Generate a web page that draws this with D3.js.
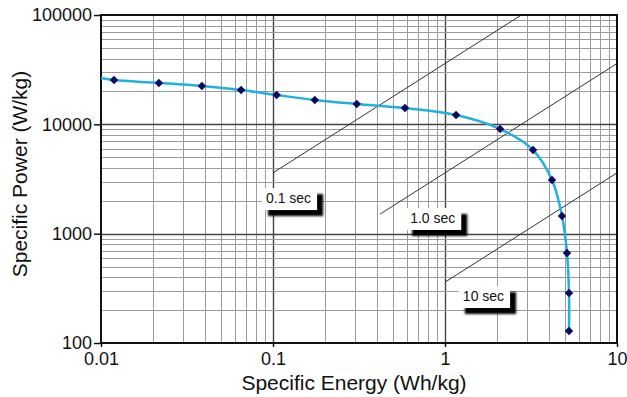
<!DOCTYPE html>
<html>
<head>
<meta charset="utf-8">
<script src="https://cdn.jsdelivr.net/npm/d3@7"></script>
<style>
  body { margin: 0; background: #fff; }
  svg { display: block; font-family: "Liberation Sans", Arial, sans-serif; }
</style>
</head>
<body>
<div id="chart"></div>
<script>
// Ragone plot: specific power vs specific energy (log-log)

var energy = [0.0119, 0.0217, 0.0386, 0.0652, 0.105, 0.175, 0.307, 0.585, 1.16, 2.09, 3.25, 4.19, 4.79, 5.12, 5.26, 5.26];
var power  = [25400, 23900, 22400, 20600, 18550, 16700, 15350, 14100, 12170, 9060, 5820, 3100, 1450, 665, 287, 129];
// the curve is drawn in from the left edge of the plot
var curveStart = [0.01, 26500];

// constant discharge time lines: P = E * 3600 / t
var timeSec    = [0.1, 1.0, 10];
var timeFromE  = [0.1, 0.42, 1];
var timeToE    = [2.78, 10, 10];
var timeLabels = ["0.1 sec", "1.0 sec", "10 sec"];
var labelE     = [0.091, 0.627, 1.27];
var labelP     = [1905, 1253, 242];

var xTicks = [0.01, 0.1, 1, 10];
var yTicks = [100, 1000, 10000, 100000];

var W = 627, H = 397;
var margin = {top: 15, right: 10, bottom: 54, left: 101};

var svg = d3.select("#chart").append("svg")
    .attr("width", W)
    .attr("height", H);

var x = d3.scaleLog().domain([0.01, 10]).range([margin.left, W - margin.right]);
var y = d3.scaleLog().domain([100, 100000]).range([H - margin.bottom, margin.top]);

var defs = svg.append("defs");
defs.append("filter").attr("id", "blur")
    .attr("x", "-20%").attr("y", "-20%").attr("width", "140%").attr("height", "140%")
  .append("feGaussianBlur").attr("stdDeviation", 1);

function isMajor(v) {
    var l = Math.log10(v);
    return Math.abs(l - Math.round(l)) < 1e-9;
}

// grid
var grid = svg.append("g").attr("class", "grid");
grid.selectAll(".vgrid")
    .data(x.ticks().filter(function(d) { return d > 0.01 && d < 10; }))
    .enter().append("line")
    .attr("x1", function(d) { return Math.round(x(d)) + 0.5; })
    .attr("x2", function(d) { return Math.round(x(d)) + 0.5; })
    .attr("y1", y.range()[0])
    .attr("y2", y.range()[1])
    .attr("stroke", function(d) { return isMajor(d) ? "#444" : "#9c9c9c"; })
    .attr("stroke-width", function(d) { return isMajor(d) ? 1.4 : 1; });

grid.selectAll(".hgrid")
    .data(y.ticks().filter(function(d) { return d > 100 && d < 100000; }))
    .enter().append("line")
    .attr("y1", function(d) { return Math.round(y(d)) + 0.5; })
    .attr("y2", function(d) { return Math.round(y(d)) + 0.5; })
    .attr("x1", x.range()[0])
    .attr("x2", x.range()[1])
    .attr("stroke", function(d) { return isMajor(d) ? "#444" : "#9c9c9c"; })
    .attr("stroke-width", function(d) { return isMajor(d) ? 1.4 : 1; });

// constant time lines
var tLines = timeSec.map(function(t, i) {
    return {t: t, e0: timeFromE[i], e1: timeToE[i]};
});
svg.selectAll(".tline")
    .data(tLines).enter().append("line")
    .attr("x1", function(d) { return x(d.e0); })
    .attr("y1", function(d) { return y(d.e0 * 3600 / d.t); })
    .attr("x2", function(d) { return x(d.e1); })
    .attr("y2", function(d) { return y(d.e1 * 3600 / d.t); })
    .attr("stroke", "#333")
    .attr("stroke-width", 1);

// labels with drop shadow
var labels = timeLabels.map(function(s, i) { return {s: s, e: labelE[i], p: labelP[i]}; });
var lg = svg.selectAll(".tlabel").data(labels).enter().append("g")
    .attr("transform", function(d) { return "translate(" + x(d.e) + "," + y(d.p) + ")"; });
lg.each(function(d) {
    var g = d3.select(this);
    var tmp = g.append("text").attr("font-size", 14).text(d.s);
    var tw = tmp.node().getComputedTextLength();
    tmp.remove();
    g.append("rect")
        .attr("x", 2).attr("y", -9)
        .attr("width", tw + 10).attr("height", 22)
        .attr("fill", "#000")
        .attr("filter", "url(#blur)");
    g.append("rect")
        .attr("x", -4).attr("y", -15)
        .attr("width", tw + 10).attr("height", 22)
        .attr("fill", "#fff");
    g.append("text")
        .attr("font-size", 14)
        .attr("fill", "#111")
        .text(d.s);
});

// frame
svg.append("rect")
    .attr("x", x.range()[0])
    .attr("y", y.range()[1])
    .attr("width", x.range()[1] - x.range()[0])
    .attr("height", y.range()[0] - y.range()[1])
    .attr("fill", "none")
    .attr("stroke", "#111")
    .attr("stroke-width", 2);

// curve and markers
var pts = [curveStart].concat(energy.map(function(e, i) { return [e, power[i]]; }));
var line = d3.line()
    .x(function(d) { return x(d[0]); })
    .y(function(d) { return y(d[1]); })
    .curve(d3.curveCatmullRom.alpha(0.5));
svg.append("path")
    .attr("d", line(pts))
    .attr("fill", "none")
    .attr("stroke", "#1fb2de")
    .attr("stroke-width", 2.5);

svg.selectAll(".pt")
    .data(energy.map(function(e, i) { return [e, power[i]]; }))
    .enter().append("path")
    .attr("d", d3.symbol(d3.symbolSquare, 36))
    .attr("transform", function(d) { return "translate(" + x(d[0]) + "," + y(d[1]) + ") rotate(45)"; })
    .attr("fill", "#0a0a66");

// axes
var fmt = function(d) { return String(d); };
var xAxis = svg.append("g")
    .attr("transform", "translate(0," + y.range()[0] + ")")
    .call(d3.axisBottom(x).tickValues(xTicks).tickFormat(fmt).tickSize(4).tickPadding(5));
var yAxis = svg.append("g")
    .attr("transform", "translate(" + x.range()[0] + ",0)")
    .call(d3.axisLeft(y).tickValues(yTicks).tickFormat(fmt).tickSize(7).tickPadding(2));
[xAxis, yAxis].forEach(function(a) {
    a.select(".domain").remove();
    a.selectAll("line").attr("stroke", "#111").attr("stroke-width", 1.5);
    a.selectAll("text").attr("font-size", 18).attr("fill", "#111")
        .attr("font-family", "'Liberation Sans', Arial, sans-serif");
});

svg.append("text")
    .attr("x", 354).attr("y", 390)
    .attr("text-anchor", "middle")
    .attr("font-size", 21).attr("fill", "#111")
    .text("Specific Energy (Wh/kg)");

svg.append("text")
    .attr("transform", "translate(27," + 174 + ") rotate(-90)")
    .attr("text-anchor", "middle")
    .attr("font-size", 21).attr("fill", "#111")
    .text("Specific Power (W/kg)");
</script>
</body>
</html>
